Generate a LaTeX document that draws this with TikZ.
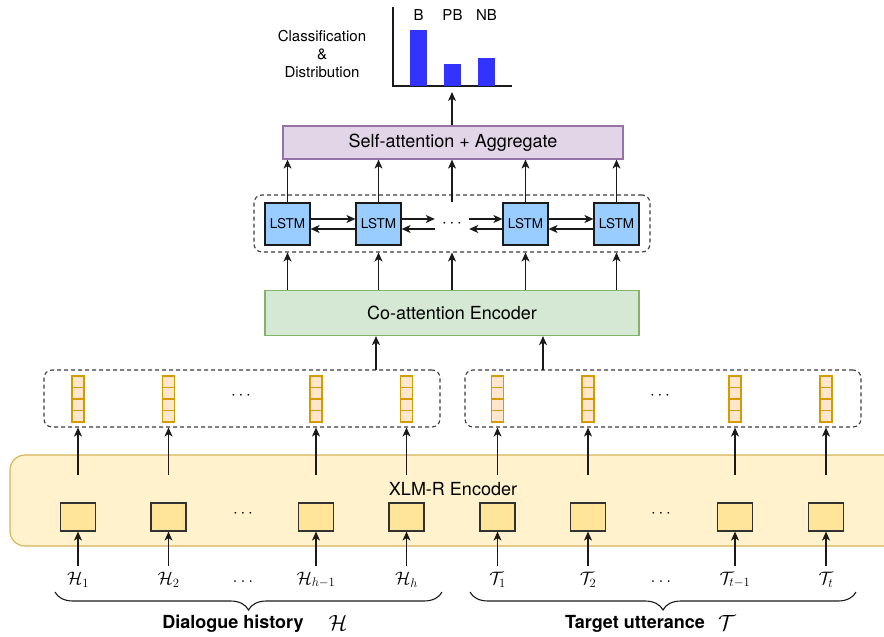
\RequirePackage{fix-cm}
\documentclass[tikz,border=0pt]{standalone}
\usepackage{fontspec}
\setmainfont{TeX Gyre Heros}
\usetikzlibrary{arrows.meta,decorations.pathreplacing,calc}
\definecolor{saF}{HTML}{E1D5E7}\definecolor{saD}{HTML}{9673A6}
\definecolor{coF}{HTML}{D5E8D4}\definecolor{coD}{HTML}{82B366}
\definecolor{lsF}{HTML}{99CCFF}
\definecolor{vF}{HTML}{FFE6CC}\definecolor{vD}{HTML}{D79B00}
\definecolor{xF}{HTML}{FFF2CC}\definecolor{xD}{HTML}{D6B656}
\definecolor{tkF}{HTML}{FFE599}
\definecolor{barc}{HTML}{3333FF}
\definecolor{ink}{HTML}{1A1A1A}
\begin{document}
\begin{tikzpicture}[x=1pt,y=-1pt,
  arr/.style={line width=1.2pt,draw=ink,-{Stealth[length=9pt,width=8pt,inset=2.5pt]}},
  ln/.style={line width=1.2pt,draw=ink},
  big/.style={font=\fontsize{18}{20}\selectfont},
  mid/.style={font=\fontsize{15}{18}\selectfont},
  lstmbox/.style={draw=ink,fill=lsF,line width=1.2pt,minimum width=45pt,minimum height=42pt,inner sep=0pt,font=\fontsize{13.5}{15}\selectfont},
  tokbox/.style={draw=ink!90,fill=tkF,line width=1.2pt,minimum width=35pt,minimum height=28pt,inner sep=0pt},
  vecbox/.style={draw=vD,fill=vF,line width=1.2pt,minimum width=12pt,minimum height=46pt,inner sep=0pt},
  dashbox/.style={draw=ink!85,line width=1.1pt,dash pattern=on 4pt off 3pt,rounded corners=8pt,inner sep=0pt},
  lab/.style={font=\fontsize{18}{20}\selectfont,inner sep=0pt},
  dotsty/.style={font=\fontsize{17}{20}\selectfont,inner sep=0pt},
  brc/.style={line width=1.1pt,draw=ink,decorate,decoration={brace,mirror,amplitude=18pt}}
]
\useasboundingbox (0,0) rectangle (884,637);

% ---- chart ----
\draw[ln] (393,7) -- (393,86) -- (512,86);
\fill[barc] (410,30) rectangle (427,86);
\fill[barc] (444,64) rectangle (461,86);
\fill[barc] (478,58) rectangle (495,86);
\node[mid] (lb) at (418.5,15) {B};
\node[mid] (lpb) at (452.5,15) {PB};
\node[mid] (lnb) at (486.5,15) {NB};
\node[mid,align=center] (cls) at (322,54) {Classification\\\&\\Distribution};
\coordinate (chartbase) at (452,92);

% ---- self-attention ----
\node[draw=saD,fill=saF,line width=1.2pt,minimum width=340pt,minimum height=33pt,inner sep=0pt,big] (sa) at (453,142.5) {Self-attention + Aggregate};
\draw[arr] (chartbase |- sa.north) -- (chartbase);

% ---- LSTM row ----
\node[dashbox,minimum width=396pt,minimum height=57pt] (lbox) at (452,223.5) {};
\node[lstmbox] (l1) at (287.5,224) {LSTM};
\node[lstmbox] (l2) at (378.5,224) {LSTM};
\node[lstmbox] (l4) at (525.5,224) {LSTM};
\node[lstmbox] (l5) at (616.5,224) {LSTM};
\node[dotsty,minimum width=34pt] (ld) at (452,224) {$\cdots$};
\coordinate (lmid) at (452,202);

\draw[arr] ([yshift=5pt]l1.east) -- ([yshift=5pt]l1.east -| l2.west);
\draw[arr] ([yshift=-5pt]l2.west) -- ([yshift=-5pt]l2.west -| l1.east);
\draw[arr] ([yshift=5pt]l2.east) -- ([yshift=5pt]l2.east -| ld.west);
\draw[arr] ([yshift=-5pt]ld.west) -- ([yshift=-5pt]ld.west -| l2.east);
\draw[arr] ([yshift=5pt]ld.east) -- ([yshift=5pt]ld.east -| l4.west);
\draw[arr] ([yshift=-5pt]l4.west) -- ([yshift=-5pt]l4.west -| ld.east);
\draw[arr] ([yshift=5pt]l4.east) -- ([yshift=5pt]l4.east -| l5.west);
\draw[arr] ([yshift=-5pt]l5.west) -- ([yshift=-5pt]l5.west -| l4.east);

\foreach \n in {l1,l2,l4,l5} \draw[arr] (\n.north) -- (\n.north |- sa.south);
\draw[arr] (lmid) -- (lmid |- sa.south);

% ---- co-attention ----
\node[draw=coD,fill=coF,line width=1.2pt,minimum width=374pt,minimum height=45pt,inner sep=0pt,big] (co) at (452,313) {Co-attention Encoder};
\foreach \n in {l1,l2,l4,l5} \draw[arr] (\n |- co.north) -- (\n |- lbox.south);
\draw[arr] (lmid |- co.north) -- (lmid |- lbox.south);

% ---- XLM-R region ----
\path[fill=xF,draw=xD,line width=1.2pt,rounded corners=15pt] (884,455) -- (10,455) -- (10,546) -- (884,546);
\node[big] (xlm) at (453,489) {XLM-R Encoder};

% ---- embedding boxes ----
\node[dashbox,minimum width=396pt,minimum height=57pt] (hbox) at (242,398.5) {};
\node[dashbox,minimum width=396pt,minimum height=57pt] (tbox) at (663,398.5) {};
\coordinate (hup) at (376,370);
\coordinate (tup) at (543,370);
\draw[arr] (hup) -- (hup |- co.south);
\draw[arr] (tup) -- (tup |- co.south);

\foreach \n/\x in {v1/78,v2/168.5,v3/316,v4/406.5,v5/497.5,v6/588,v7/735,v8/826} {
  \node[vecbox] (\n) at (\x,399) {};
  \foreach \f in {0.25,0.5,0.75}
    \draw[vD,line width=1.2pt] ($(\n.north west)!\f!(\n.south west)$) -- ($(\n.north east)!\f!(\n.south east)$);
}
\node[dotsty] (hd1) at (241,396) {$\cdots$};
\node[dotsty] (td1) at (660,396) {$\cdots$};

% ---- tokens ----
\foreach \n/\x in {t1/78,t2/168.5,t3/316,t4/406.5,t5/497.5,t6/588,t7/735,t8/826}
  \node[tokbox] (\n) at (\x,517) {};
\node[dotsty] (hd2) at (243,514) {$\cdots$};
\node[dotsty] (td2) at (661,514) {$\cdots$};

\foreach \i in {1,...,4} \draw[arr] (t\i |- 0,475) -- (v\i |- hbox.south);
\foreach \i in {5,...,8} \draw[arr] (t\i |- 0,475) -- (v\i |- tbox.south);

% ---- labels ----
\foreach \n/\x/\t in {a1/78/{$\mathcal{H}_1$},a2/168.5/{$\mathcal{H}_2$},a3/316/{$\mathcal{H}_{h-1}$},a4/406.5/{$\mathcal{H}_h$},a5/497.5/{$\mathcal{T}_1$},a6/588/{$\mathcal{T}_2$},a7/735/{$\mathcal{T}_{t-1}$},a8/826/{$\mathcal{T}_t$}}
  \node[lab] (\n) at (\x,580) {\t};
\node[lab] (hd3) at (243,582) {$\dots$};
\node[lab] (td3) at (661,582) {$\dots$};
\foreach \i in {1,...,8} \draw[arr] (t\i |- 0,566) -- (t\i.south);

% ---- braces ----
\draw[brc] (55,592) -- (442,592);
\draw[brc] (470,592) -- (856,592);
\node[font=\bfseries\fontsize{18}{20}\selectfont] (dh) at (233,624) {Dialogue history};
\node[font=\fontsize{22}{24}\selectfont] (dhs) at (338,623) {$\mathcal{H}$};
\node[font=\bfseries\fontsize{18}{20}\selectfont] (tu) at (635,624) {Target utterance};
\node[font=\fontsize{22}{24}\selectfont] (tus) at (727,623) {$\mathcal{T}$};
\end{tikzpicture}
\end{document}
